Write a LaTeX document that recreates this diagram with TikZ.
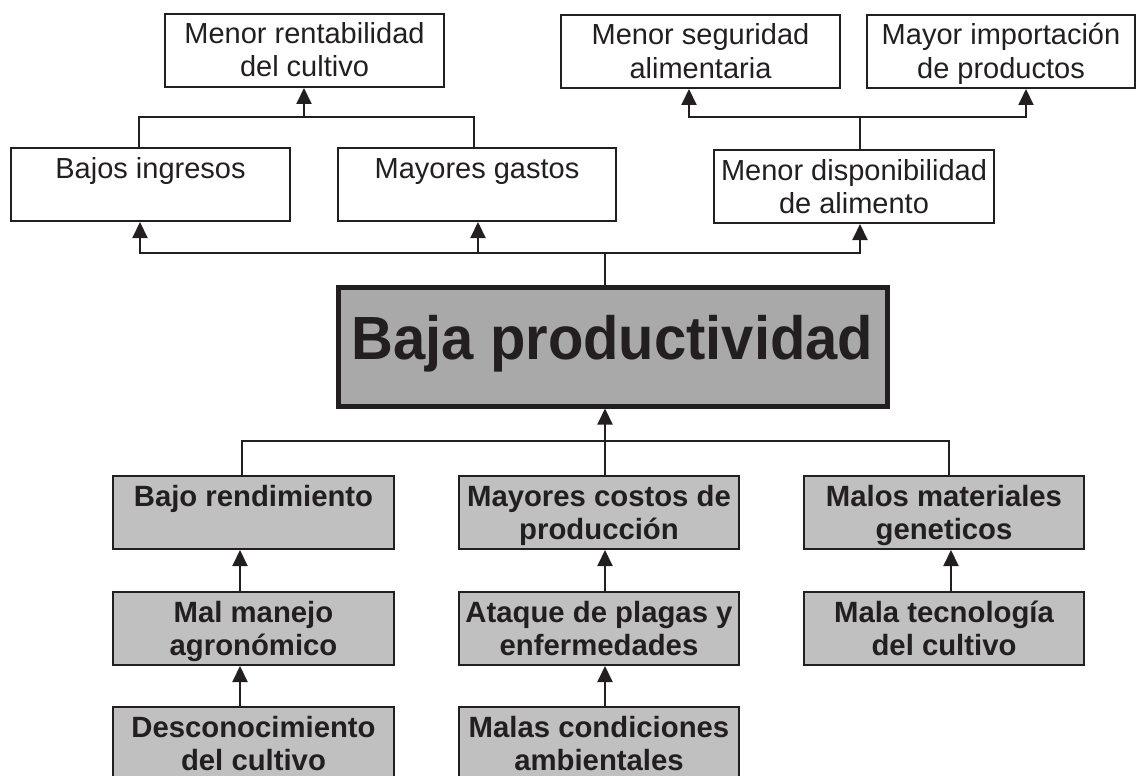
\documentclass[tikz,border=0pt]{standalone}
\usepackage{fontspec}
\setmainfont{Liberation Sans}
\newfontfamily\condfont[FakeStretch=0.95]{Liberation Sans}
\usetikzlibrary{arrows.meta}
\definecolor{ink}{HTML}{231F20}
\definecolor{boxgray}{HTML}{C0C0C0}
\definecolor{maingray}{HTML}{A9A9A9}
\tikzset{
  lnk/.style={line width=2pt, draw=ink},
  arr/.style={lnk, -{Triangle[width=15pt,length=16pt]}},
  tbox/.style={draw=ink, line width=2pt, fill=white, inner sep=0pt, align=center,
    text height=63pt, text depth=10pt, text=ink, anchor=north west,
    font=\fontsize{29}{33}\selectfont},
  bbox/.style={tbox, fill=boxgray, font=\bfseries\fontsize{29.3}{33}\selectfont},
  mainbox/.style={draw=ink, line width=5pt, fill=maingray, inner sep=0pt, anchor=north west,
    text height=72.5pt, text depth=46.5pt, text=ink,
    font=\condfont\bfseries\fontsize{61}{61}\selectfont}
}
\begin{document}
\begin{tikzpicture}[x=1pt,y=-1pt]
\useasboundingbox (0,0) rectangle (1136,776);
\clip (0,0) rectangle (1136,776);
% top boxes
\node[tbox, minimum width=279pt] (rent) at (164,13) {Menor rentabilidad\\del cultivo};
\node[tbox, minimum width=279pt] (seg) at (560,14) {Menor seguridad\\alimentaria};
\node[tbox, minimum width=268pt] (imp) at (866,14) {Mayor importación\\de productos};
\node[tbox, minimum width=279pt] (bajos) at (10,147) {Bajos ingresos\\\mbox{}};
\node[tbox, minimum width=278pt] (gastos) at (337,147) {Mayores gastos\\\mbox{}};
\node[tbox, minimum width=280pt] (disp) at (713,149) {Menor disponibilidad\\de alimento};
% main
\node[mainbox, minimum width=549pt] (main) at (335.5,284.5) {Baja productividad};
% bottom boxes
\node[bbox, minimum width=281pt] (b1) at (112,475) {Bajo rendimiento\\\mbox{}};
\node[bbox, minimum width=280pt] (b2) at (458,475) {Mayores costos de\\producción};
\node[bbox, minimum width=280pt] (b3) at (803,475) {Malos materiales\\geneticos};
\node[bbox, minimum width=281pt] (m1) at (112,591) {Mal manejo\\agronómico};
\node[bbox, minimum width=280pt] (m2) at (458,591) {Ataque de plagas y\\enfermedades};
\node[bbox, minimum width=280pt] (m3) at (803,591) {Mala tecnología\\del cultivo};
\node[bbox, minimum width=281pt] (d1) at (112,706) {Desconocimiento\\del cultivo};
\node[bbox, minimum width=280pt] (d2) at (458,706) {Malas condiciones\\ambientales};
% junctions
\coordinate (jA) at (304,117); \coordinate (jAl) at (139,117); \coordinate (jAr) at (474,117);
\coordinate (jB) at (860,117); \coordinate (jBl) at (689,117); \coordinate (jBr) at (1026,117);
\coordinate (jC) at (605,253); \coordinate (jCl) at (140,253); \coordinate (jCm) at (478,253); \coordinate (jCr) at (860,253);
\coordinate (jD) at (605,441); \coordinate (jDl) at (242,441); \coordinate (jDr) at (949,441);
\coordinate (k1) at (240,0); \coordinate (k2) at (605,0); \coordinate (k3) at (951,0);
% top-left bracket
\draw[lnk] (jAl |- bajos.north) -- (jAl) -- (jAr) -- (jAr |- gastos.north);
\draw[arr] (jA) -- (jA |- rent.south);
% top-right bracket
\draw[lnk] (jB |- disp.north) -- (jB);
\draw[arr] (jB) -- (jBl) -- (jBl |- seg.south);
\draw[arr] (jB) -- (jBr) -- (jBr |- imp.south);
% main to effects
\draw[lnk] (jC |- main.north) -- (jC);
\draw[arr] (jC) -- (jCl) -- (jCl |- bajos.south);
\draw[arr] (jC) -- (jCr) -- (jCr |- disp.south);
\draw[arr] (jCm) -- (jCm |- gastos.south);
% causes to main
\draw[arr] (jD) -- (jD |- main.south);
\draw[lnk] (jDl |- b1.north) -- (jDl) -- (jDr) -- (jDr |- b3.north);
\draw[lnk] (jD) -- (jD |- b2.north);
% columns
\draw[arr] (k1 |- m1.north) -- (k1 |- b1.south);
\draw[arr] (k1 |- d1.north) -- (k1 |- m1.south);
\draw[arr] (k2 |- m2.north) -- (k2 |- b2.south);
\draw[arr] (k2 |- d2.north) -- (k2 |- m2.south);
\draw[arr] (k3 |- m3.north) -- (k3 |- b3.south);
\end{tikzpicture}
\end{document}
